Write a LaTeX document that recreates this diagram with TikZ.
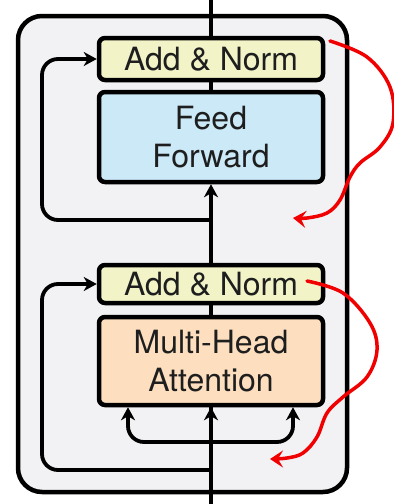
\documentclass[tikz,border=0pt]{standalone}
\usepackage{fontspec}
\setmainfont{TeX Gyre Heros}
\usetikzlibrary{arrows.meta}
\definecolor{bgc}{RGB}{242,242,245}
\definecolor{ync}{RGB}{242,244,200}
\definecolor{ffc}{RGB}{203,233,247}
\definecolor{mhc}{RGB}{253,223,192}
\definecolor{txc}{RGB}{30,30,30}
\definecolor{redc}{RGB}{240,0,0}
\begin{document}
\begin{tikzpicture}[x=1pt,y=-1pt,
  blk/.style={draw=black,line width=4.5pt,rounded corners=6pt,minimum width=224pt,
    inner sep=0pt,align=center,text=txc,font=\fontsize{32}{38}\selectfont},
  wire/.style={line width=3.8pt,black},
  arr/.style={wire,-{Stealth[length=13pt,width=14pt,inset=4pt]}},
  redarr/.style={line width=3.5pt,redc,line cap=round,-{Stealth[length=13pt,width=17pt,inset=5pt]}}]
\useasboundingbox (0,0) rectangle (394,504);
\fill[white] (0,0) rectangle (394,504);
% outer block
\draw[line width=4.5pt,fill=bgc,rounded corners=24pt] (18,16) rectangle (347,492);
% coordinates
\coordinate (top) at (211,0);
\coordinate (bot) at (211,504);
\coordinate (r2) at (211,220);
\coordinate (r1) at (211,470);
\coordinate (br) at (211,442);
% main vertical line segments
\draw[wire] (top) -- (211,40);
\draw[wire] (r2) -- (bot);
% nodes
\node[blk,fill=ync,minimum height=42pt] (an2) at (211,59) {Add \& Norm};
\node[blk,fill=ffc,minimum height=90pt] (ff) at (211,137) {Feed\\Forward};
\node[blk,fill=ync,minimum height=38pt] (an1) at (211,284) {Add \& Norm};
\node[blk,fill=mhc,minimum height=88pt] (mha) at (211,361) {Multi-Head\\Attention};
% connectors
\draw[wire] (ff.north) -- (an2.south);
\draw[wire] (mha.north) -- (an1.south);
\draw[arr] (an1.north) -- (ff.south);
\draw[arr] (bot) -- (mha.south);
\draw[arr,rounded corners=16pt] (r2) -- (42,220) |- (an2.west);
\draw[arr,rounded corners=16pt] (r1) -- (42,470) |- (an1.west);
\draw[arr,rounded corners=16pt] (br) -| ([xshift=-83pt]mha.south);
\draw[arr,rounded corners=16pt] (br) -| ([xshift=82pt]mha.south);
% red annotation arrows
\coordinate (ra) at (330,41);
\coordinate (rb) at (307,281);
\draw[redarr] plot[smooth,tension=0.6] coordinates {(ra) (367,57) (390,87) (393,123) (380,147) (360,163) (350,177) (340,200) (327,213) (307,218) (293,218)};
\draw[redarr] plot[smooth,tension=0.6] coordinates {(rb) (343,293) (370,323) (377,350) (367,377) (343,397) (327,413) (317,437) (303,453) (287,458) (270,459)};
\end{tikzpicture}
\end{document}
